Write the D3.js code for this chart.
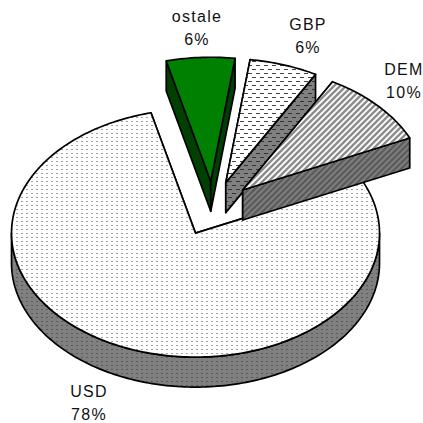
<!DOCTYPE html>
<html>
<head>
<meta charset="utf-8">
<script src="https://cdn.jsdelivr.net/npm/d3@7/dist/d3.min.js"></script>
<style>
html,body{margin:0;padding:0;background:#fff}
svg{display:block}
text{font-family:"Liberation Sans",Arial,sans-serif;font-size:16px;fill:#111;letter-spacing:1.3px;text-anchor:middle}
</style>
</head>
<body>
<div id="chart"></div>
<script>
const categories = ["USD", "ostale", "GBP", "DEM"];
const shares = [78, 6, 6, 10];
const shareLabels = ["78%", "6%", "6%", "10%"];
const labelCentres = [[89, 397], [197, 22], [308, 30], [404, 75]];
const topFills = ["url(#usdTop)", "#008000", "url(#gbpTop)", "url(#demTop)"];
const sideFills = ["url(#usdSide)", "#004000", "url(#gbpSide)", "url(#demSide)"];

const W = 423, H = 423;
const cx = 213, cy = 208.5, rx = 184, ry = 124, depth = 30, explode = 0.22;
const startDeg = 65.2;

const svg = d3.select("#chart").append("svg").attr("width", W).attr("height", H).attr("viewBox", [0, 0, W, H]);
const defs = svg.append("defs");

function tile(id, w, h, bg, draw) {
  const p = defs.append("pattern").attr("id", id).attr("patternUnits", "userSpaceOnUse")
    .attr("width", w).attr("height", h);
  p.append("rect").attr("width", w).attr("height", h).attr("fill", bg);
  draw(p);
}
function dash(p, x, y, w, fill) {
  p.append("rect").attr("x", x).attr("y", y).attr("width", w).attr("height", 1)
    .attr("fill", fill).attr("shape-rendering", "crispEdges");
}
function diag(p, size, color, sw) {
  p.append("path").attr("d", `M${-size / 2},${size / 2}L${size / 2},${-size / 2}M0,${size}L${size},0M${size / 2},${size * 1.5}L${size * 1.5},${size / 2}`)
    .attr("stroke", color).attr("stroke-width", sw).attr("fill", "none");
}
tile("usdTop", 5, 4, "#fff", p => dash(p, 1, 1, 2, "#a0a0a0"));
tile("usdSide", 5, 4, "#808080", p => dash(p, 1, 1, 2, "#5a5a5a"));
tile("gbpTop", 8, 8, "#fff", p => { dash(p, 0, 1, 4, "#444"); dash(p, 4, 5, 4, "#444"); });
tile("gbpSide", 8, 8, "#808080", p => { dash(p, 0, 1, 4, "#333"); dash(p, 4, 5, 4, "#333"); });
tile("demTop", 6, 6, "#fff", p => diag(p, 6, "#8c8c8c", 2.4));
tile("demSide", 6, 6, "#808080", p => diag(p, 6, "#5c5c5c", 2.4));

const pie = d3.pie().sort(null).value(d => d)
  .startAngle(startDeg * Math.PI / 180)
  .endAngle((startDeg + 360) * Math.PI / 180);
const arcs = pie(shares);
const line = d3.line().curve(d3.curveLinear);

function pt(a, ox, oy, dz) {
  return [ox + rx * Math.sin(a), oy - ry * Math.cos(a) + dz];
}
function sweep(a0, a1, ox, oy, dz) {
  const n = Math.max(2, Math.ceil(Math.abs(a1 - a0) / 0.02));
  return d3.range(n + 1).map(i => pt(a0 + (a1 - a0) * i / n, ox, oy, dz));
}

const g = svg.append("g").attr("stroke", "#000").attr("stroke-width", 1.7).attr("stroke-linejoin", "round");

arcs.forEach((d, i) => {
  const mid = (d.startAngle + d.endAngle) / 2;
  const ox = cx + explode * rx * Math.sin(mid);
  const oy = cy - explode * ry * Math.cos(mid);
  const a0 = d.startAngle, a1 = d.endAngle;
  const fill = sideFills[i];
  const centre = [ox, oy], centreLow = [ox, oy + depth];

  // radial walls
  [a0, a1].forEach(a => {
    g.append("path").attr("fill", fill).attr("d",
      line([centre, pt(a, ox, oy, 0), pt(a, ox, oy, depth), centreLow]) + "Z");
  });

  // outer wall: the front half of the rim
  const cycle = Math.floor(a0 / (2 * Math.PI)) * 2 * Math.PI;
  const fLo = cycle + Math.PI / 2, fHi = cycle + 3 * Math.PI / 2;
  const lo = Math.max(a0, fLo), hi = Math.min(a1, fHi);
  if (hi > lo) {
    g.append("path").attr("fill", fill).attr("d",
      line(sweep(lo, hi, ox, oy, 0).concat(sweep(hi, lo, ox, oy, depth))) + "Z");
  }

  // top face
  g.append("path").attr("fill", topFills[i]).attr("d",
    line([centre].concat(sweep(a0, a1, ox, oy, 0))) + "Z");
});

const labels = svg.append("g");
categories.forEach((c, i) => {
  const [x, y] = labelCentres[i];
  labels.append("text").attr("x", x).attr("y", y).text(c);
  labels.append("text").attr("x", x).attr("y", y + 23).text(shareLabels[i]);
});
</script>
</body>
</html>
